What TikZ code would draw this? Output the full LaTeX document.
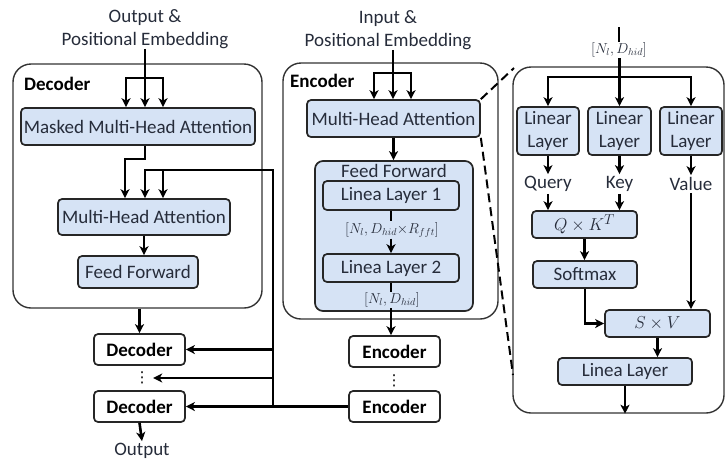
\documentclass[tikz,border=0pt]{standalone}
\usepackage{fontspec}
\setmainfont{Carlito}
\newfontfamily\dejavu{DejaVu Sans}
\usetikzlibrary{arrows.meta}
\definecolor{boxblue}{RGB}{214,227,245}
\definecolor{txt}{RGB}{38,44,58}
\begin{document}
\begin{tikzpicture}[x=1pt,y=-1pt,
  font=\fontsize{19}{23}\selectfont,
  blk/.style={draw=black!85, line width=1.7pt, fill=boxblue, rounded corners=4pt, inner sep=0pt, text=txt},
  panel/.style={draw=black!80, line width=1.4pt, rounded corners=18pt, inner sep=0pt},
  wbox/.style={draw=black!85, line width=1.7pt, rounded corners=4pt, fill=white, inner sep=0pt, minimum width=91pt, minimum height=31pt, font=\fontsize{19}{23}\selectfont\bfseries},
  arr/.style={line width=2.6pt, -{Stealth[length=9pt,width=9pt,inset=2.5pt]}},
  ln/.style={line width=2.6pt},
  lab/.style={text=txt, inner sep=2pt},
  ttl/.style={anchor=west, inner sep=0pt, font=\fontsize{19}{23}\selectfont\bfseries},
  mlab/.style={text=txt, inner sep=1pt, font=\fontsize{14.5}{16}\selectfont},
  dots/.style={inner sep=0.5pt, font=\fontsize{15}{15}\selectfont\dejavu},
  dsh/.style={line width=2pt, dash pattern=on 9pt off 5pt}
]
\useasboundingbox (0,0) rectangle (725,459);

% ---------------- Decoder ----------------
\node[panel, minimum width=249pt, minimum height=244pt] (dpan) at (137.5,186) {};
\node[ttl] (dtit) at (24,84) {Decoder};
\node[lab, align=center, inner sep=0pt] (otxt) at (145,29) {Output \&\\Positional Embedding};
\node[blk, minimum width=234pt, minimum height=37pt] (mmha) at (138,126.5) {Masked Multi-Head Attention};
\node[blk, minimum width=172pt, minimum height=36pt] (mha) at (144,217) {Multi-Head Attention};
\node[blk, minimum width=120pt, minimum height=32pt] (ff) at (138,272) {Feed Forward};
\node[wbox] (dec1) at (139.5,349.5) {Decoder};
\node[dots] (ddots) at (142,378) {⋮};
\node[wbox] (dec2) at (139.5,406.5) {Decoder};
\node[lab] (out) at (142,451) {Output};

% ---------------- Encoder ----------------
\node[panel, minimum width=215pt, minimum height=256pt] (epan) at (390.5,191) {};
\node[ttl] (etit) at (290,81) {Encoder};
\node[lab, align=center, inner sep=0pt] (itxt) at (388,30) {Input \&\\Positional Embedding};
\node[blk, minimum width=173pt, minimum height=37pt] (emha) at (393.5,118.5) {Multi-Head Attention};
\node[blk, rounded corners=8pt, minimum width=158pt, minimum height=150pt] (ffo) at (394,236) {};
\node[lab, inner sep=0pt] (fft) at (394,171) {Feed Forward};
\node[blk, minimum width=136pt, minimum height=29pt] (ll1) at (391,195.5) {Linea Layer 1};
\node[mlab] (lab1) at (392,230) {$[N_l, D_{hid}{\times} R_{fft}]$};
\node[blk, minimum width=136pt, minimum height=28pt] (ll2) at (391,268) {Linea Layer 2};
\node[mlab] (lab2) at (392,300) {$[N_l, D_{hid}]$};
\node[wbox] (enc1) at (394.5,351.5) {Encoder};
\node[dots] (edots) at (394,381) {⋮};
\node[wbox] (enc2) at (394.5,406.5) {Encoder};

% decoder connectors
\coordinate (ds) at (145,78);
\coordinate (dsl) at (126,78);
\coordinate (dsr) at (163,78);
\draw[arr] (ds |- otxt.south) -- (ds |- mmha.north);
\draw[arr] (ds) -- (dsl) -- (dsl |- mmha.north);
\draw[arr] (ds) -- (dsr) -- (dsr |- mmha.north);

\coordinate (m1) at (145,159);
\coordinate (m2) at (125,159);
\draw[arr] (mmha.south -| m1) -- (m1) -- (m2) -- (m2 |- mha.north);

\coordinate (b1) at (273,170);
\coordinate (b2) at (145,170);
\coordinate (b3) at (163,170);
\draw[arr] (enc2.west -| b1) -- (b1) -- (b2) -- (b2 |- mha.north);
\draw[arr] (b3) -- (b3 |- mha.north);
\draw[arr] (mha.south) -- (mha.south |- ff.north);
\draw[arr] (dpan.south -| dec1.north) -- (dec1.north);
\draw[arr] (dec1.east -| b1) -- (dec1.east);
\draw[arr] (ddots.east -| b1) -- ([xshift=3pt]ddots.east);
\draw[arr] (dec2.south) -- (out.north);

% encoder connectors
\coordinate (es) at (393,73);
\coordinate (esl) at (374,73);
\coordinate (esr) at (411,73);
\draw[arr] (es |- itxt.south) -- (es |- emha.north);
\draw[arr] (es) -- (esl) -- (esl |- emha.north);
\draw[arr] (es) -- (esr) -- (esr |- emha.north);
\draw[arr] (emha.south) -- (emha.south |- ffo.north);
\draw[ln] (ll1.south) -- (ll1.south |- lab1.north);
\draw[arr] (ll1.south |- lab1.south) -- (ll2.north);
\draw[ln] (ll2.south) -- (ll2.south |- lab2.north);
\draw[arr] (ll2.south |- lab2.south) -- (ll2.south |- enc1.north);
\draw[ln] (enc2.west) -- (dec2.east -| b1);
\draw[arr] (dec2.east -| b1) -- (dec2.east);

% ---------------- Attention detail ----------------
\node[panel, minimum width=211pt, minimum height=346pt] (rpan) at (618.5,240) {};
\coordinate (rt) at (619,27);
\node[mlab] (lab3) at (619,50) {$[N_l, D_{hid}]$};
\node[blk, minimum width=62pt, minimum height=48pt, align=center] (lin1) at (548,131) {Linear\\Layer};
\node[blk, minimum width=63pt, minimum height=48pt, align=center] (lin2) at (619.5,131) {Linear\\Layer};
\node[blk, minimum width=62pt, minimum height=48pt, align=center] (lin3) at (691,131) {Linear\\Layer};
\node[lab] (q) at (548,184) {Query};
\node[lab] (k) at (619.5,184) {Key};
\node[lab] (v) at (691,184) {Value};
\node[blk, minimum width=105pt, minimum height=27pt] (qk) at (584.5,224.5) {$Q\times K^T$};
\node[blk, minimum width=104pt, minimum height=27pt] (sm) at (585,274.5) {Softmax};
\node[blk, minimum width=105pt, minimum height=27pt] (sv) at (657.5,323.5) {$S\times V$};
\node[blk, minimum width=134pt, minimum height=27pt] (ll) at (625,371.5) {Linea Layer};

\coordinate (rs) at (619.5,77);
\coordinate (rsl) at (548,77);
\coordinate (rsr) at (691,77);
\draw[ln] (rt) -- (rt |- lab3.north);
\draw[arr] (lab3.south -| rs) -- (lin2.north);
\draw[arr] (rs) -- (rsl) -- (lin1.north);
\draw[arr] (rs) -- (rsr) -- (lin3.north);
\draw[arr] (lin1.south) -- (q.north);
\draw[arr] (lin2.south) -- (k.north);
\draw[arr] (lin3.south) -- (v.north);
\draw[arr] (q.south) -- (q.south |- qk.north);
\draw[arr] (k.south) -- (k.south |- qk.north);
\draw[arr] (qk.south) -- (qk.south |- sm.north);
\draw[arr] (sm.south) |- (sv.west);
\draw[arr] (v.south) -- (v.south |- sv.north);
\draw[arr] (sv.south) -- (sv.south |- ll.north);
\draw[arr] (ll.south) -- (ll.south |- rpan.south);

\coordinate (dend) at (513,375);
\coordinate (dtop) at (514,68);
\draw[dsh] (emha.north east) -- (dtop);
\draw[dsh] (emha.south east) -- (dend);
\end{tikzpicture}
\end{document}
